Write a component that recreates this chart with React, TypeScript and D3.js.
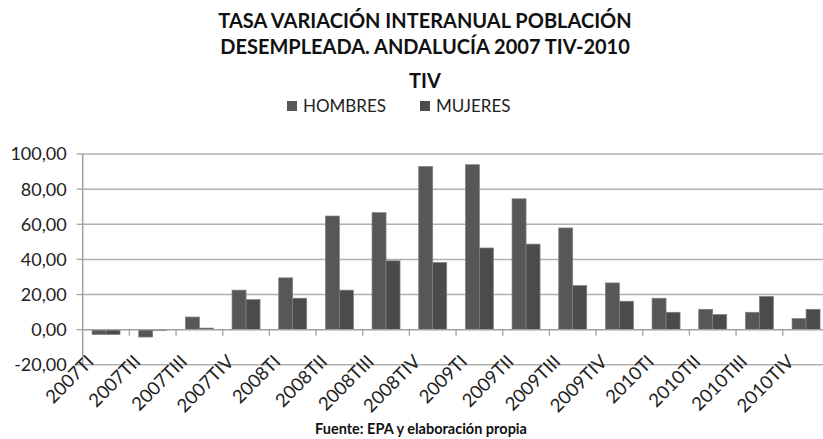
import React from "react";
import * as d3 from "d3";

const categories = ["2007TI","2007TII","2007TIII","2007TIV","2008TI","2008TII","2008TIII","2008TIV","2009TI","2009TII","2009TIII","2009TIV","2010TI","2010TII","2010TIII","2010TIV"];
const hombres = [-2.8,-4.2,7.2,22.5,29.5,64.7,66.6,92.9,93.9,74.5,57.9,26.6,17.9,11.6,9.9,6.3];
const mujeres = [-2.8,-0.5,0.9,17.1,17.9,22.5,39.2,38.3,46.5,48.7,25.1,16.2,9.9,8.6,18.9,11.6];
const yTicks = [-20,0,20,40,60,80,100];
const seriesNames = ["HOMBRES","MUJERES"];
const titleLines = ["TASA VARIACIÓN INTERANUAL POBLACIÓN","DESEMPLEADA. ANDALUCÍA 2007 TIV-2010","TIV"];
const footer = "Fuente: EPA y elaboración propia";

const W = 823, H = 439;
const left = 82.7, right = 829.4, top = 154, bottom = 364.8;
const font = "Lato, 'Open Sans', sans-serif";
const colors = ["#575757", "#4b4b4b"];

export default function App() {
  const x = d3.scaleBand<string>().domain(categories).range([left, right]).paddingInner(0.4).paddingOuter(0.2);
  const xs = d3.scaleBand<string>().domain(seriesNames).range([0, x.bandwidth()]);
  const y = d3.scaleLinear().domain([-20, 100]).range([bottom, top]);
  const step = x.step();
  const fmt = (v: number) => v.toFixed(2).replace(".", ",");
  const data = [hombres, mujeres];
  const y0 = y(0);
  return (
    <svg width={W} height={H} style={{ position: "absolute", left: 0, top: 0, background: "#fff" }} fontFamily={font}>
      <rect x={0} y={0} width={W} height={H} fill="#fff" />
      {titleLines.map((t, i) => (
        <text key={t} x={425} y={[28, 54, 88][i]} textAnchor="middle" fontWeight="bold" fontSize={20} fill="#111">{t}</text>
      ))}
      {seriesNames.map((s, i) => (
        <g key={s}>
          <rect x={[287, 420][i]} y={101} width={10} height={10} fill={colors[i]} />
          <text x={[303, 436][i]} y={112} fontSize={17} fill="#222">{s}</text>
        </g>
      ))}
      {yTicks.filter(v => v !== 0).map(v => (
        <line key={"g" + v} x1={left} x2={W} y1={y(v)} y2={y(v)} stroke="#b0b0b0" strokeWidth={1.5} />
      ))}
      {yTicks.map(v => (
        <g key={"t" + v}>
          <line x1={left - 6} x2={left} y1={y(v)} y2={y(v)} stroke="#a0a0a0" strokeWidth={1.3} />
          <text x={left - 16} y={y(v)} dy="0.36em" textAnchor="end" fontSize={18} fill="#222">{fmt(v)}</text>
        </g>
      ))}
      <line x1={left} x2={left} y1={top} y2={bottom} stroke="#a0a0a0" strokeWidth={1.5} />
      {categories.map((c, i) => (
        <g key={c}>
          {data.map((arr, j) => {
            const v = arr[i];
            const yy = y(Math.max(0, v));
            const h = Math.abs(y(v) - y0);
            return <rect key={j} x={(x(c) as number) + (xs(seriesNames[j]) as number)} y={yy} width={xs.bandwidth()} height={h} fill={colors[j]} stroke="#808080" strokeWidth={0.7} />;
          })}
        </g>
      ))}
      <line x1={left} x2={W} y1={y0} y2={y0} stroke="#a0a0a0" strokeWidth={1.5} />
      {categories.map((c, i) => i > 0 ? (
        <line key={"xt" + c} x1={left + i * step} x2={left + i * step} y1={y0} y2={y0 + 6} stroke="#a0a0a0" strokeWidth={1.3} />
      ) : null)}
      {categories.map(c => {
        const cx = (x(c) as number) + x.bandwidth() / 2 - 11;
        const cy = bottom - 2;
        return (
          <text key={"l" + c} x={cx} y={cy} transform={`rotate(-45 ${cx} ${cy})`} textAnchor="end" fontSize={18.5} fill="#222">{c}</text>
        );
      })}
      <text x={421} y={434} textAnchor="middle" fontWeight="bold" fontSize={14.5} fill="#111">{footer}</text>
    </svg>
  );
}
